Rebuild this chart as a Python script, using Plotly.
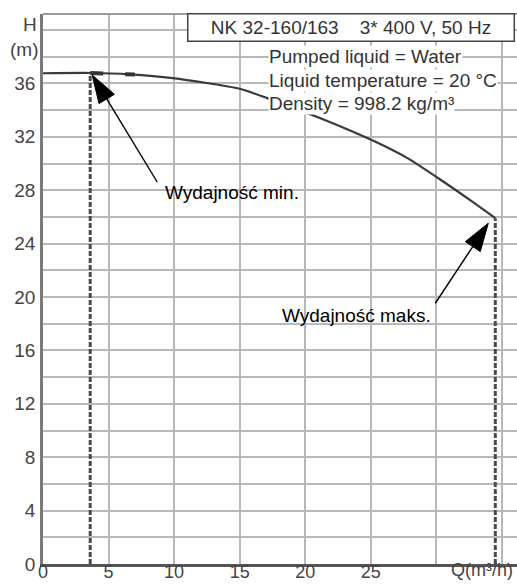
import math
import plotly.graph_objects as go

# Pump performance curve: head H (m) against flow Q (m³/h)
flow_q = [0, 3.6, 6.6, 9.9, 15.0, 17.1, 21.4, 25.2, 27.8, 30.3, 32.8, 34.5]
head_h = [36.76, 36.78, 36.68, 36.4, 35.6, 34.9, 33.3, 31.7, 30.4, 28.8, 27.1, 25.9]

# Heavier stretch of the curve just after the minimum-flow point
min_seg_q = [3.6, 7.0]
min_seg_h = [36.78, 36.66]

# Operating limits
q_min, h_min = 3.6, 36.78
q_max, h_max = 34.5, 25.9

x_tickvals = [0, 5, 10, 15, 20, 25, 30, 35]
x_ticktext = ["0", "5", "10", "15", "20", "25", "", ""]
y_tickvals = [0, 2, 4, 6, 8, 10, 12, 14, 16, 18, 20, 22, 24, 26, 28, 30, 32, 34, 36, 38, 40]
y_ticktext = ["0", "", "4", "", "8", "", "12", "", "16", "", "20", "", "24", "", "28", "", "32", "", "36", "", ""]

title_text = "NK 32-160/163    3* 400 V, 50 Hz"
info_lines = ["Pumped liquid = Water", "Liquid temperature = 20 °C", "Density = 998.2 kg/m³"]
label_min = "Wydajność min."
label_max = "Wydajność maks."

FONT = "Liberation Sans, Arial, sans-serif"
FS = 19
FS_X = 18
W, H = 517, 584
ML, MR, MT, MB = 43, 0, 14, 20
PW, PH = W - ML - MR, H - MT - MB
PX_PER_Q = 13.11
PX_PER_H = 13.35
GRID = "#b8b8b8"

fig = go.Figure()

fig.add_trace(go.Scatter(
    x=flow_q, y=head_h, mode="lines",
    line=dict(color="#3a3a3a", width=2.2, shape="spline", smoothing=0.6),
    hoverinfo="skip", showlegend=False))

fig.add_trace(go.Scatter(
    x=min_seg_q, y=min_seg_h, mode="lines",
    line=dict(color="#333333", width=4, dash="13px,22px,10px,200px"),
    hoverinfo="skip", showlegend=False))

for q, h in [(q_min, h_min), (q_max, h_max)]:
    fig.add_trace(go.Scatter(
        x=[q, q], y=[0, h], mode="lines",
        line=dict(color="#4a4a4a", width=3, dash="5px,2px"),
        hoverinfo="skip", showlegend=False))

shapes = []
annotations = []

# Plot top border
shapes.append(dict(type="line", xref="paper", yref="paper", x0=0, x1=1, y0=1, y1=1,
                   line=dict(color="#9a9a9a", width=2)))


def add_arrow(q, h, tip_px, tail_px, label, label_dx, label_dy, anchor):
    """Arrow pointing at (q, h); offsets are screen pixels (y downwards)."""
    tx, ty = tip_px
    sx, sy = tail_px
    dx, dy = sx - tx, sy - ty
    n = math.hypot(dx, dy)
    ux, uy = dx / n, dy / n
    head_len, half_w = 28, 9
    bx, by = tx + ux * head_len, ty + uy * head_len
    px_, py_ = -uy, ux
    c1 = (bx + px_ * half_w, by + py_ * half_w)
    c2 = (bx - px_ * half_w, by - py_ * half_w)
    # shape paths use y upwards
    line_path = f"M{bx:.1f},{-by:.1f} L{sx:.1f},{-sy:.1f}"
    head_path = (f"M{tx:.1f},{-ty:.1f} L{c1[0]:.1f},{-c1[1]:.1f} "
                 f"L{c2[0]:.1f},{-c2[1]:.1f} Z")
    shapes.append(dict(type="path", xref="x", yref="y", xsizemode="pixel", ysizemode="pixel",
                       xanchor=q, yanchor=h, path=line_path,
                       line=dict(color="black", width=1.4)))
    shapes.append(dict(type="path", xref="x", yref="y", xsizemode="pixel", ysizemode="pixel",
                       xanchor=q, yanchor=h, path=head_path, fillcolor="black",
                       line=dict(color="black", width=1)))
    annotations.append(dict(x=q, y=h, xref="x", yref="y", text=label, showarrow=False,
                            xshift=sx + label_dx, yshift=-(sy + label_dy),
                            xanchor=anchor, yanchor="middle",
                            font=dict(family=FONT, size=FS, color="black")))


add_arrow(q_min, h_min, (2, 2), (67, 109), label_min, 6, 11, "left")
add_arrow(q_max, h_max, (-7, 5), (-60, 85), label_max, -2, 12, "right")

# Pump designation box
box_l, box_r, box_t, box_b = 187, 515, 13, 42
annotations.append(dict(
    xref="paper", yref="paper",
    x=((box_l + box_r) / 2 - ML) / PW, y=(H - MB - (box_t + box_b) / 2) / PH,
    text=title_text, showarrow=False, xanchor="center", yanchor="middle",
    width=box_r - box_l - 3, height=box_b - box_t - 3, borderpad=0,
    bordercolor="#444444", borderwidth=1.5, bgcolor="white",
    font=dict(family=FONT, size=FS, color="#333333")))

# Liquid information lines
for i, line in enumerate(info_lines):
    yc = 57 + 23 * i
    annotations.append(dict(
        xref="paper", yref="paper", x=(268 - ML) / PW, y=(H - MB - yc) / PH,
        text=line, showarrow=False, xanchor="left", yanchor="middle",
        bgcolor="white", borderpad=0,
        font=dict(family=FONT, size=FS, color="#333333")))

# Axis titles
annotations.append(dict(xref="paper", yref="paper", x=-4 / PW, y=(H - MB - 24) / PH,
                        text="H", showarrow=False, xanchor="right", yanchor="middle",
                        font=dict(family=FONT, size=FS, color="#444444")))
annotations.append(dict(xref="paper", yref="paper", x=-3 / PW, y=(H - MB - 50) / PH,
                        text="(m)", showarrow=False, xanchor="right", yanchor="middle",
                        font=dict(family=FONT, size=FS, color="#444444")))
annotations.append(dict(xref="paper", yref="paper", x=(515 - ML) / PW, y=0, yshift=6,
                        text="Q(m³/h)", showarrow=False, xanchor="right", yanchor="top",
                        font=dict(family=FONT, size=FS_X, color="#444444")))

fig.update_layout(
    width=W, height=H,
    margin=dict(l=ML, r=MR, t=MT, b=MB, pad=0, autoexpand=False),
    plot_bgcolor="white", paper_bgcolor="white",
    font=dict(family=FONT, size=FS, color="#444444"),
    shapes=shapes, annotations=annotations, showlegend=False,
    xaxis=dict(range=[0, PW / PX_PER_Q], tickmode="array", tickvals=x_tickvals, ticktext=x_ticktext,
               showgrid=True, gridcolor=GRID, gridwidth=1.5, zeroline=False,
               showline=True, linecolor="#555555", linewidth=2.5, ticks="", ticklen=0,
               tickfont=dict(family=FONT, size=FS_X, color="#444444"),
               ticklabelstandoff=-10, automargin=False, fixedrange=True),
    yaxis=dict(range=[0, PH / PX_PER_H], tickmode="array", tickvals=y_tickvals, ticktext=y_ticktext,
               showgrid=True, gridcolor=GRID, gridwidth=1.5, zeroline=False,
               showline=True, linecolor="#7a7a7a", linewidth=2.5, ticks="", ticklen=0,
               ticklabelstandoff=1, automargin=False, fixedrange=True),
)

fig.write_html("out.html")
